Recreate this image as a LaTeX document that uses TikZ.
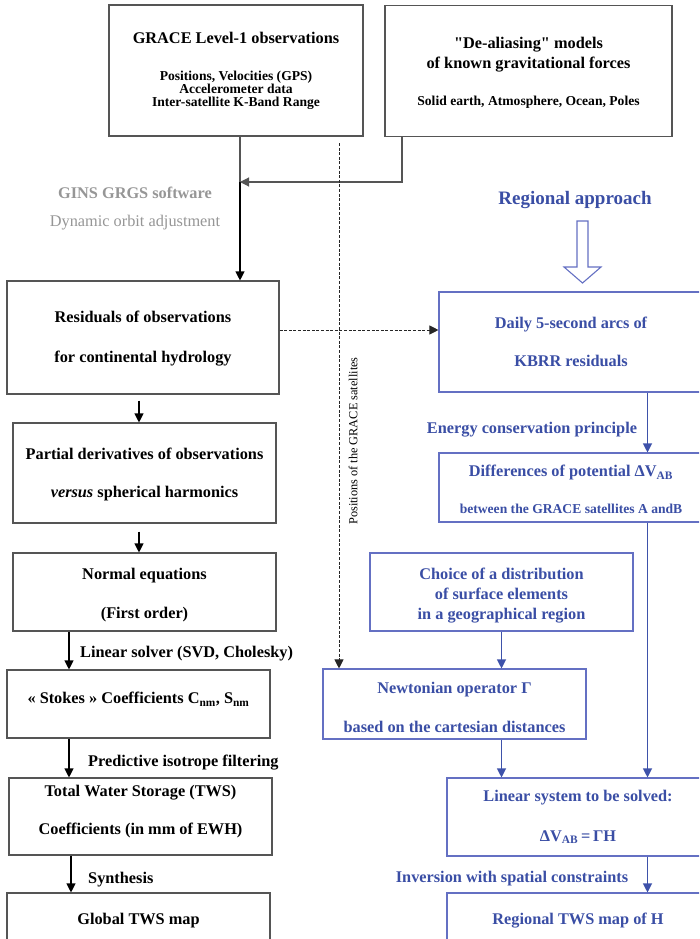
\documentclass[tikz,border=0pt]{standalone}
\usepackage{fontspec}
\setmainfont{Liberation Serif}
\newfontfamily\qfont[Ligatures=TeXOff]{Liberation Serif}
\usetikzlibrary{arrows.meta}
\definecolor{bluetxt}{RGB}{58,78,165}
\definecolor{blueline}{RGB}{100,112,195}
\definecolor{bluearr}{RGB}{62,82,170}
\definecolor{grayline}{RGB}{85,85,85}
\definecolor{graytxt}{RGB}{150,150,150}
\newcommand{\bigf}{\fontsize{16.3}{19}\selectfont}
\newcommand{\nolsk}{\lineskiplimit-30pt\relax}
\newcommand{\sq}{{\qfont\bfseries "}}
\tikzset{
  kbox/.style={draw=grayline, line width=1.1pt, inner sep=0pt, align=center},
  bbox/.style={draw=blueline, line width=1.1pt, inner sep=0pt, align=center, text=bluetxt},
  fs/.style 2 args={font={\bfseries\fontsize{#1}{#2}\selectfont\nolsk}},
  karr/.style={draw=black, line width=1.1pt, -{Triangle[length=9pt,width=9pt]}},
  barr/.style={draw=bluearr, line width=1.1pt, -{Triangle[length=9pt,width=9pt]}},
  darr/.style={draw=black!85, line width=0.9pt, dash pattern=on 3pt off 1.6pt, -{Triangle[length=9pt,width=9pt]}},
  klab/.style={inner sep=0pt, font=\bfseries\fontsize{16.3}{19}\selectfont},
  blab/.style={inner sep=0pt, text=bluetxt, font=\bfseries\fontsize{16.3}{19}\selectfont},
  glab/.style={inner sep=0pt, text=graytxt, font=\fontsize{16.3}{19}\selectfont},
}
\begin{document}
\begin{tikzpicture}[x=1pt,y=-1pt]
\useasboundingbox (0,0) rectangle (699,939);
\clip (0,0) rectangle (699,939);
\fill[white] (0,0) rectangle (699,939);

% top boxes
\node[kbox, fs={13.6}{12.9}, minimum width=254, minimum height=131] (g1) at (236,70.5)
  {{\bigf GRACE Level-1 observations}\\[24pt]
   Positions, Velocities (GPS)\\
   Accelerometer data\\ Inter-satellite K-Band Range};
\node[kbox, fs={13.6}{20}, minimum width=287, minimum height=131, text height=72pt] (g2) at (528.5,71)
  {{\bigf \sq De-aliasing\sq{} models}\\
   {\bigf of known gravitational forces}\\[17pt]
   Solid earth, Atmosphere, Ocean, Poles};

% left column
\node[kbox, fs={16.3}{40}, minimum width=272, minimum height=113, text height=54pt] (res) at (143,337.5)
  {Residuals of observations\\ for continental hydrology};
\node[kbox, fs={16.3}{38}, minimum width=263, minimum height=100, text height=52pt] (part) at (144.5,473)
  {Partial derivatives of observations\\ \textit{versus} spherical harmonics};
\node[kbox, fs={16.3}{39}, minimum width=263, minimum height=78, text height=56.5pt] (norm) at (144.5,592)
  {Normal equations\\ (First order)};
\node[kbox, fs={16.3}{19}, minimum width=263, minimum height=68, text depth=12pt] (stokes) at (138.5,704)
  {« Stokes » Coefficients C\textsubscript{nm}, S\textsubscript{nm}};
\node[kbox, fs={16.3}{38}, minimum width=263, minimum height=77, text depth=14pt] (tws) at (140.5,816.5)
  {Total Water Storage (TWS)\\ Coefficients (in mm of EWH)};
\node[kbox, fs={16.3}{19}, minimum width=263, minimum height=56] (glob) at (138.5,921)
  {Global TWS map};

% right column
\node[bbox, fs={16.3}{38}, minimum width=264, minimum height=100] (daily) at (571,342)
  {Daily 5-second arcs of\\ KBRR residuals};
\node[bbox, fs={13.6}{37}, minimum width=264, minimum height=69, text height=52pt] (diff) at (571,487.5)
  {{\bigf Differences of potential ΔV\textsubscript{AB}}\\
   between the GRACE satellites A andB};
\node[bbox, fs={16.3}{20}, minimum width=263, minimum height=78, text height=59.5pt] (choice) at (501.5,592)
  {Choice of a distribution\\ of surface elements\\ in a geographical region};
\node[bbox, fs={16.3}{39}, minimum width=263, minimum height=70, text height=57.5pt] (newt) at (454.5,704)
  {Newtonian operator Γ\\ based on the cartesian distances};
\node[bbox, fs={16.3}{40}, minimum width=262, minimum height=78] (lin) at (578,817)
  {Linear system to be solved:\\ ΔV\textsubscript{AB}\,=\,ΓH};
\node[bbox, fs={16.3}{19}, minimum width=262, minimum height=56] (reg) at (578,921)
  {Regional TWS map of H};

% free labels
\node[glab, font=\bfseries\fontsize{16.3}{19}\selectfont] (gins) at (135,193) {GINS GRGS software};
\node[glab] (dyn) at (135,223) {Dynamic orbit adjustment};
\node[blab, font=\bfseries\fontsize{19}{22}\selectfont] (ra) at (575,200) {Regional approach};
\node[blab] (ecp) at (532,430) {Energy conservation principle};
\node[inner sep=0pt, rotate=90, font=\fontsize{12.3}{14}\selectfont] (pos) at (353,441) {Positions of the GRACE satellites};
\node[klab, anchor=west] (ls) at (80,654) {Linear solver (SVD, Cholesky)};
\node[klab, anchor=west] (pif) at (88,763) {Predictive isotrope filtering};
\node[klab, anchor=west] (syn) at (88,880) {Synthesis};
\node[blab] (inv) at (512,879) {Inversion with spatial constraints};

% coordinates
\coordinate (jx) at (240,182);
\coordinate (k2) at (402,182);
\coordinate (ds) at (339,143);
\coordinate (dy) at (0,330);
\coordinate (rx) at (647.5,0);
\coordinate (lx) at (139,0);
\coordinate (sx) at (69,0);
\coordinate (tx) at (71,0);

% black connectors
\draw[line width=1.1pt, grayline] (g1.south -| jx) -- (jx);
\draw[karr] (jx) -- (res.north -| jx);
\draw[karr, draw=grayline] (g2.south -| k2) |- (jx);
\draw[karr, shorten <=6pt] (res.south -| lx) -- (part.north -| lx);
\draw[karr, shorten <=8pt] (part.south -| lx) -- (norm.north -| lx);
\draw[karr] (norm.south -| sx) -- (stokes.north -| sx);
\draw[karr] (stokes.south -| sx) -- (tws.north -| sx);
\draw[karr] (tws.south -| tx) -- (glob.north -| tx);

% dashed connectors
\draw[darr] (ds) -- (ds |- newt.north);
\draw[darr] (res.east |- dy) -- (daily.west |- dy);

% blue connectors
\draw[barr] (daily.south -| rx) -- (diff.north -| rx);
\draw[barr] (diff.south -| rx) -- (lin.north -| rx);
\draw[barr] (lin.south -| rx) -- (reg.north -| rx);
\draw[barr] (choice.south) -- (choice.south |- newt.north);
\draw[barr] (newt.south -| choice.south) -- (lin.north -| choice.south);

% hollow arrow
\draw[blueline, line width=1.1pt, fill=white, line join=miter]
  (577,221) -- (588,221) -- (588,267) -- (601,267) -- (582.5,283) -- (564,267) -- (577,267) -- cycle;
\end{tikzpicture}
\end{document}
